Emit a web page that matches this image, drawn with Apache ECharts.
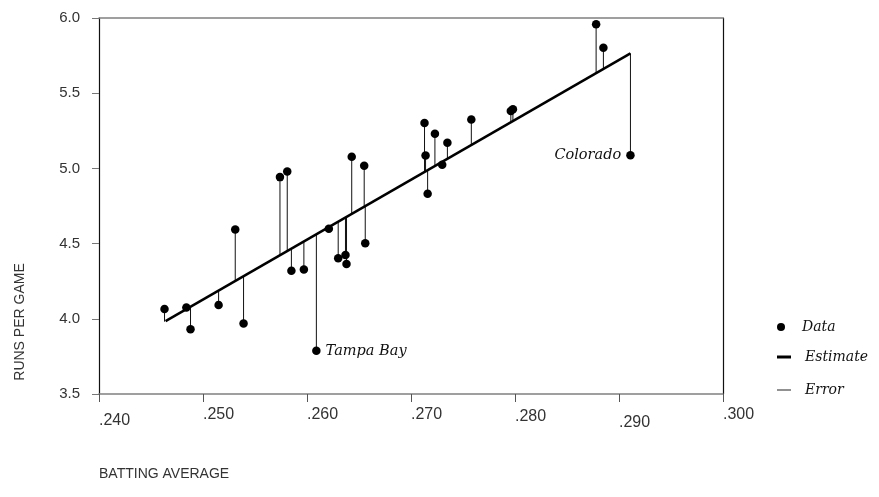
<!DOCTYPE html>
<html><head><meta charset="utf-8">
<script src="https://cdn.jsdelivr.net/npm/echarts@6/dist/echarts.min.js"></script>
<style>html,body{margin:0;padding:0;background:#fff}#c{width:879px;height:497px}</style>
</head><body><div id="c"></div>
<script>
// ---- data ----
const battingAvg = [0.2463, 0.2484, 0.2488, 0.2515, 0.2531, 0.2539, 0.2574, 0.2581, 0.2585, 0.2597,
  0.2609, 0.2621, 0.2630, 0.2637, 0.2638, 0.2643, 0.2655, 0.2656, 0.2713, 0.2714,
  0.2716, 0.2723, 0.2730, 0.2735, 0.2758, 0.2796, 0.2798, 0.2878, 0.2885, 0.2911];
const runsPerGame = [4.065, 4.075, 3.931, 4.091, 4.593, 3.969, 4.942, 4.980, 4.320, 4.327,
  3.787, 4.598, 4.402, 4.424, 4.365, 5.078, 5.018, 4.502, 5.302, 5.085,
  4.831, 5.231, 5.025, 5.171, 5.325, 5.382, 5.393, 5.958, 5.802, 5.087];
const teamLabels = ['', '', '', '', '', '', '', '', '', '',
  'Tampa Bay', '', '', '', '', '', '', '', '', '',
  '', '', '', '', '', '', '', '', '', 'Colorado'];
const estimateAvg = [0.2464, 0.2911];
const estimateRuns = [3.985, 5.765];
const xTickValues = [0.240, 0.250, 0.260, 0.270, 0.280, 0.290, 0.300];
const xTickLabels = ['.240', '.250', '.260', '.270', '.280', '.290', '.300'];
const yTickValues = [3.5, 4.0, 4.5, 5.0, 5.5, 6.0];
const yTickLabels = ['3.5', '4.0', '4.5', '5.0', '5.5', '6.0'];
const xTitle = 'BATTING AVERAGE';
const yTitle = 'RUNS PER GAME';
const legendNames = ['Data', 'Estimate', 'Error'];

// ---- helpers ----
function estAt(x) {
  const t = (x - estimateAvg[0]) / (estimateAvg[1] - estimateAvg[0]);
  return estimateRuns[0] + t * (estimateRuns[1] - estimateRuns[0]);
}
function xLabel(v) {
  let i = xTickValues.findIndex(t => Math.abs(t - v) < 1e-6);
  return i < 0 ? '' : '{s' + i + '|' + xTickLabels[i] + '}';
}
function yLabel(v) {
  let i = yTickValues.findIndex(t => Math.abs(t - v) < 1e-6);
  return i < 0 ? '' : yTickLabels[i];
}
const sans = 'Liberation Sans, Arial, sans-serif';
const serif = 'DejaVu Serif, serif';
const shifts = [3, 0, 0, 0, 1, 4, -1];
const rich = {};
shifts.forEach((s, i) => { rich['s' + i] = { fontFamily: sans, fontSize: 16, color: '#333', padding: [Math.max(s,0) * 2, 0, Math.max(-s,0) * 2, 0] }; });

const chart = echarts.init(document.getElementById('c'));
chart.setOption({
  animation: false,
  backgroundColor: '#fff',
  grid: { left: 99, right: 156, top: 18, bottom: 103 },
  xAxis: [{
    type: 'value', min: 0.24, max: 0.30, interval: 0.01,
    position: 'bottom',
    axisLine: { lineStyle: { color: '#808080', width: 1.5 } },
    axisTick: { show: true, length: 8, lineStyle: { color: '#555' } },
    splitLine: { show: false },
    axisLabel: { formatter: xLabel, align: 'left', margin: 13, rich: rich },
    name: xTitle, nameLocation: 'start', nameGap: 0,
    nameTextStyle: { align: 'left', verticalAlign: 'top', padding: [73, 0, 0, 0], fontFamily: sans, fontSize: 14, color: '#333' }
  }, {
    type: 'value', min: 0.24, max: 0.30, position: 'top',
    axisLine: { show: true, lineStyle: { color: '#808080', width: 1.5 } },
    axisTick: { show: false }, axisLabel: { show: false }, splitLine: { show: false }
  }],
  yAxis: [{
    type: 'value', min: 3.5, max: 6.0, interval: 0.5,
    axisLine: { show: true, lineStyle: { color: '#111', width: 1.2 } },
    axisTick: { show: true, length: 7, lineStyle: { color: '#777' } },
    splitLine: { show: false },
    axisLabel: { formatter: yLabel, margin: 19, fontFamily: sans, fontSize: 15, color: '#333', padding: [0, 0, 6, 0] },
    name: yTitle, nameLocation: 'middle', nameRotate: 90, nameGap: 72,
    nameTextStyle: { fontFamily: sans, fontSize: 14, color: '#333', padding: [0, 232, 0, 0] }
  }, {
    type: 'value', min: 3.5, max: 6.0, position: 'right',
    axisLine: { show: true, lineStyle: { color: '#111', width: 1.2 } },
    axisTick: { show: false }, axisLabel: { show: false }, splitLine: { show: false }
  }],
  legend: [
    { data: [legendNames[0]], left: 772, top: 315, icon: 'circle', itemWidth: 14, itemHeight: 8,
      textStyle: { fontFamily: serif, fontStyle: 'italic', fontSize: 14, color: '#111', padding: [0, 0, 0, 9] } },
    { data: [legendNames[1]], left: 772, top: 345, icon: 'rect', itemWidth: 14, itemHeight: 3,
      textStyle: { fontFamily: serif, fontStyle: 'italic', fontSize: 14, color: '#111', padding: [0, 0, 0, 9] } },
    { data: [legendNames[2]], left: 772, top: 378, icon: 'rect', itemWidth: 14, itemHeight: 1,
      textStyle: { fontFamily: serif, fontStyle: 'italic', fontSize: 14, color: '#111', padding: [0, 0, 0, 9] } }
  ],
  series: [
    {
      name: legendNames[2], type: 'custom', z: 1,
      itemStyle: { color: '#222' },
      encode: { x: 0, y: [1, 2] },
      data: battingAvg.map((x, i) => [x, runsPerGame[i], estAt(x)]),
      renderItem: function (params, api) {
        const p1 = api.coord([api.value(0), api.value(1)]);
        const p2 = api.coord([api.value(0), api.value(2)]);
        return { type: 'line', shape: { x1: p1[0], y1: p1[1], x2: p2[0], y2: p2[1] },
          style: { stroke: '#111', lineWidth: 1 } };
      }
    },
    {
      name: legendNames[1], type: 'line', z: 2, symbol: 'none',
      lineStyle: { color: '#000', width: 2.5 }, itemStyle: { color: '#000' },
      data: estimateAvg.map((x, i) => [x, estimateRuns[i]])
    },
    {
      name: legendNames[0], type: 'scatter', z: 3, symbolSize: 8.5,
      itemStyle: { color: '#000', opacity: 1 },
      data: battingAvg.map((x, i) => ({
        value: [x, runsPerGame[i]],
        label: teamLabels[i] ? {
          show: true, formatter: teamLabels[i],
          position: i === 29 ? 'left' : 'right', distance: 5,
          fontFamily: serif, fontStyle: 'italic', fontSize: 14.5, color: '#111'
        } : { show: false }
      }))
    }
  ]
});
</script></body></html>
